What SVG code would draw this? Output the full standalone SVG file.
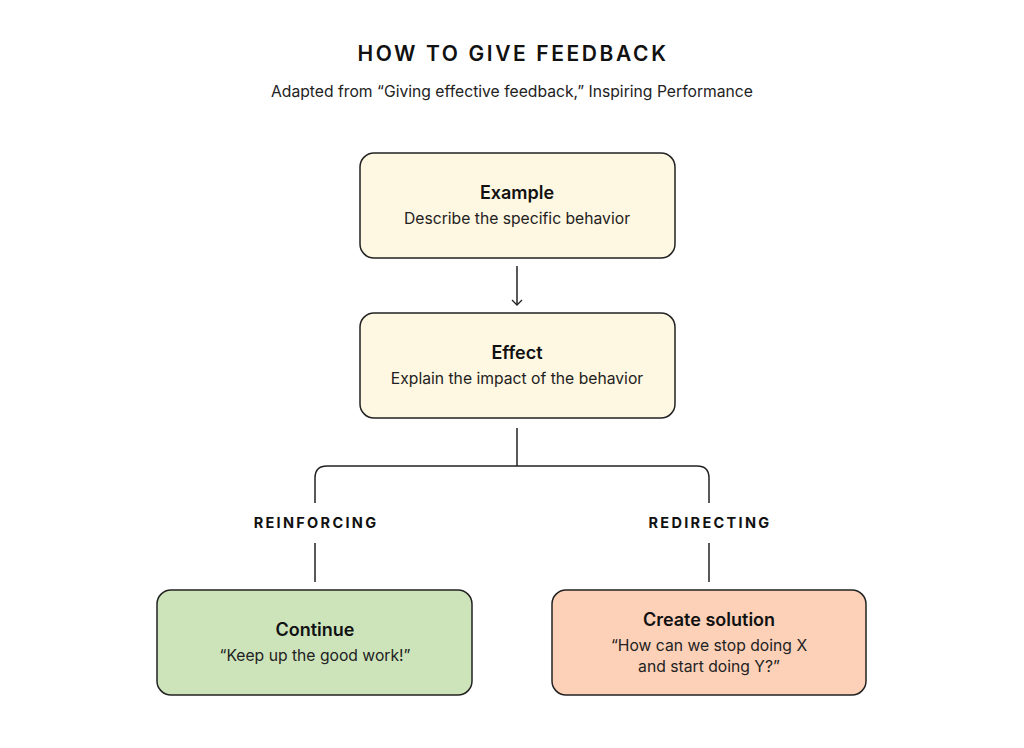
<svg xmlns="http://www.w3.org/2000/svg" width="1024" height="748" viewBox="0 0 1024 748">
<defs>
<style>
.t{font-family:Inter,"Liberation Sans",sans-serif;fill:#111;text-anchor:middle}
.h{font-size:18px;font-weight:600}
.s{font-size:15.7px;fill:#222}
.lab{font-size:14.5px;font-weight:700;letter-spacing:2.3px}
.box{stroke:#222;stroke-width:1.5}
.c{fill:none;stroke:#222;stroke-width:1.5}
</style>
<marker id="arr" viewBox="0 0 12 12" refX="10" refY="6" markerWidth="12" markerHeight="12" markerUnits="userSpaceOnUse" orient="auto">
<path d="M5,1 L10,6 L5,11" fill="none" stroke="#222" stroke-width="1.3"/>
</marker>
</defs>
<rect width="1024" height="748" fill="#fff"/>
<g id="title">
<text class="t" x="513" y="61" style="font-size:21px;font-weight:600;letter-spacing:2.6px">HOW TO GIVE FEEDBACK</text>
<text class="t s" x="512" y="97">Adapted from “Giving effective feedback,” Inspiring Performance</text>
</g>
<g id="connectors">
<line class="c" x1="517" y1="266" x2="517" y2="305" marker-end="url(#arr)"/>
<line class="c" x1="517" y1="428" x2="517" y2="466"/>
<path class="c" d="M315,503 V478 Q315,466 327,466 H697 Q709,466 709,478 V503"/>
<line class="c" x1="315" y1="543" x2="315" y2="582"/>
<line class="c" x1="709" y1="543" x2="709" y2="582"/>
<text class="t lab" x="316" y="528">REINFORCING</text>
<text class="t lab" x="710" y="528">REDIRECTING</text>
</g>
<g id="example">
<rect class="box" x="360" y="153" width="315" height="105" rx="14" fill="#fef7e1"/>
<text class="t h" x="517" y="199">Example</text>
<text class="t s" x="517" y="224">Describe the specific behavior</text>
</g>
<g id="effect">
<rect class="box" x="360" y="313" width="315" height="105" rx="14" fill="#fef7e1"/>
<text class="t h" x="517" y="359">Effect</text>
<text class="t s" x="517" y="384">Explain the impact of the behavior</text>
</g>
<g id="continue">
<rect class="box" x="157" y="590" width="315" height="105" rx="14" fill="#cde4bb"/>
<text class="t h" x="315" y="636">Continue</text>
<text class="t s" x="315" y="661">“Keep up the good work!”</text>
</g>
<g id="create-solution">
<rect class="box" x="552" y="590" width="314" height="105" rx="14" fill="#fdd1b8"/>
<text class="t h" x="709" y="626">Create solution</text>
<text class="t s" x="709" y="651">“How can we stop doing X</text>
<text class="t s" x="709" y="672">and start doing Y?”</text>
</g>
</svg>
